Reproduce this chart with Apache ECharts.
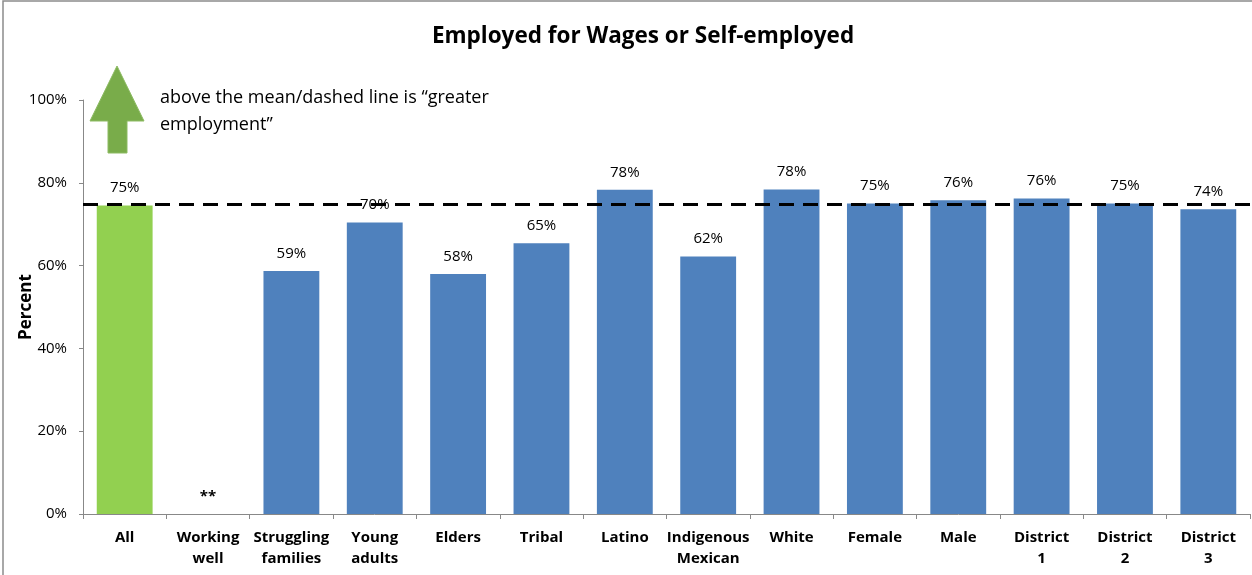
<!DOCTYPE html>
<html>
<head>
<meta charset="utf-8">
<script src="https://cdn.jsdelivr.net/npm/echarts@6/dist/echarts.min.js"></script>
<style>
html,body{margin:0;padding:0;background:#fff;}
#chart{width:1252px;height:575px;}
</style>
</head>
<body>
<div id="chart"></div>
<script>
const categories = ['All','Working\nwell','Struggling\nfamilies','Young\nadults','Elders','Tribal','Latino','Indigenous\nMexican','White','Female','Male','District\n1','District\n2','District\n3'];
const values = [74.5, 0, 58.7, 70.4, 58.0, 65.4, 78.3, 62.2, 78.4, 75.0, 75.8, 76.2, 75.0, 73.6];
const valueLabels = ['75%','**','59%','70%','58%','65%','78%','62%','78%','75%','76%','76%','75%','74%'];
const highlightIndex = 0;
const meanValue = 74.8;
const yMin = 0, yMax = 100, yStep = 20;
const titleText = 'Employed for Wages or Self-employed';
const noteText = 'above the mean/dashed line is \u201cgreater\nemployment\u201d';

const FONT = '"Open Sans", "Liberation Sans", sans-serif';
const chart = echarts.init(document.getElementById('chart'), null, {renderer:'canvas'});

const data = values.map((v, i) => {
  const item = {value: v, itemStyle: {color: i === highlightIndex ? '#92D050' : '#4F81BD'}};
  if (valueLabels[i] === '**') item.label = {fontWeight: 'bold'};
  return item;
});

chart.setOption({
  animation: false,
  backgroundColor: '#fff',
  title: {
    text: titleText,
    left: 638, top: 20,
    textAlign: 'center',
    textStyle: {fontFamily: FONT, fontSize: 22.5, fontWeight: 'bold', color: '#000'}
  },
  grid: {left: 83, right: 2, top: 100, bottom: 61, containLabel: false, outerBoundsMode: 'none'},
  xAxis: {
    type: 'category',
    data: categories,
    axisLine: {lineStyle: {color: '#888', width: 1}},
    axisTick: {show: true, alignWithLabel: false, length: 5, lineStyle: {color: '#888'}},
    axisLabel: {interval: 0, margin: 13, fontFamily: FONT, fontSize: 15, fontWeight: 'bold', color: '#000', lineHeight: 21}
  },
  yAxis: {
    type: 'value',
    min: yMin, max: yMax, interval: yStep,
    name: 'Percent', nameLocation: 'middle', nameGap: 48, nameRotate: 90, nameMoveOverlap: false,
    nameTextStyle: {fontFamily: FONT, fontSize: 17, fontWeight: 'bold', color: '#000'},
    axisLine: {show: true, lineStyle: {color: '#888'}},
    axisTick: {show: true, length: 4, lineStyle: {color: '#888'}},
    splitLine: {show: false},
    axisLabel: {formatter: '{value}%', margin: 16, fontFamily: FONT, fontSize: 15, color: '#000'}
  },
  series: [{
    type: 'bar',
    data: data,
    barWidth: '67%',
    label: {
      show: true, position: 'top', distance: 10,
      fontFamily: FONT, fontSize: 15, color: '#000',
      formatter: p => valueLabels[p.dataIndex]
    },
    markLine: {
      silent: true, symbol: 'none',
      label: {show: false},
      lineStyle: {type: [15, 9], color: '#000', width: 3},
      data: [{yAxis: meanValue}]
    }
  }],
  graphic: [
    {type: 'rect', shape: {x: 3, y: 1, width: 1300, height: 700}, style: {fill: 'none', stroke: '#8c8c8c', lineWidth: 1.5}, silent: true},
    {type: 'polygon', shape: {points: [[117,66],[144,121],[127,121],[127,153],[108,153],[108,121],[90,121]]}, style: {fill: '#79AC4A', stroke: '#8DBB63', lineWidth: 1}},
    {type: 'text', left: 160, top: 84, style: {text: noteText, fontFamily: FONT, fontSize: 18, lineHeight: 27, fill: '#000'}}
  ]
});
</script>
</body>
</html>
